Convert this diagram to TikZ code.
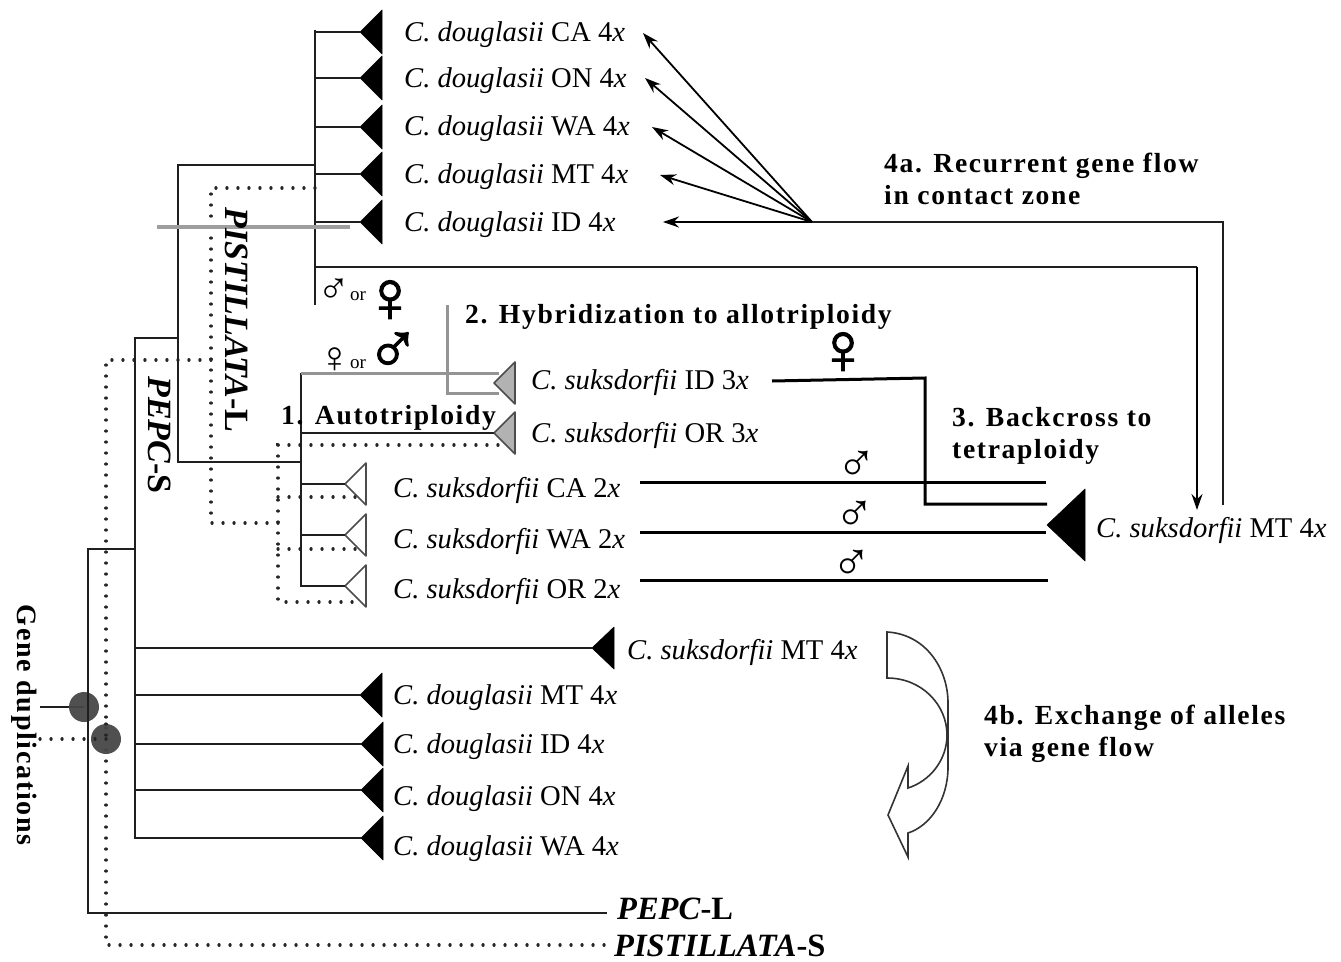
\documentclass[tikz,border=0pt]{standalone}
\usepackage{fontspec}
\setmainfont{Liberation Serif}
\newfontfamily\symfont{Liberation Serif}
\newfontfamily\symbold[FakeBold=1.6]{Liberation Serif}
\newfontfamily\boldsp[LetterSpace=6,BoldFont={Liberation Serif Bold}]{Liberation Serif}
\usetikzlibrary{arrows.meta}
\tikzset{
  x=1pt,y=-1pt,
  branch/.style={draw=black!88,line width=2.1pt},
  thickbranch/.style={draw=black,line width=3pt},
  dotbranch/.style={draw=black!85,line width=3.2pt,line cap=round,dash pattern=on 0.1pt off 10.9pt},
  grayline/.style={draw=black!42,line width=3pt},
  flow/.style={draw=black,line width=1.8pt,-{Stealth[length=16pt,width=11pt]}},
  taxon/.style={anchor=west,inner sep=0pt,yshift=-2.5pt,font=\fontsize{28.6}{30}\selectfont},
  note/.style={anchor=west,inner sep=0pt,align=left,font=\fontsize{27.6}{32}\boldsp\bfseries},
  sidelab/.style={anchor=center,inner sep=0pt,rotate=-90,font=\fontsize{28}{30}\boldsp\bfseries},
  tiplab/.style={anchor=west,inner sep=0pt,font=\fontsize{32.5}{34}\bfseries},
  sym/.style={inner sep=0pt},
  bigsym/.style={sym,font=\symbold\fontsize{73}{73}\selectfont},
  smallsym/.style={sym,font=\symfont\fontsize{44}{44}\selectfont},
  midsym/.style={sym,font=\symfont\fontsize{54}{54}\selectfont},
  ortext/.style={inner sep=0pt,font=\fontsize{19}{19}\selectfont},
  blacktri/.style={fill=black,draw=black,line width=.6pt,line join=round},
  graytri/.style={fill=black!30,draw=black!70,line width=1.6pt,line join=round},
  whitetri/.style={fill=white,draw=black!70,line width=1.6pt,line join=round},
  dup/.style={circle,fill=black!72,minimum size=30pt,inner sep=0pt,opacity=.95},
}
% \tri{name}{style}{apex x}{right x}{y}{half height}
\newcommand{\tri}[6]{%
  \coordinate (#1) at (#3,#5);
  \path[#2] (#3,#5) -- (#4,#5-#6) -- (#4,#5+#6) -- cycle;
}
\begin{document}
\begin{tikzpicture}
\useasboundingbox (0,0) rectangle (1341,961);

% ---- coordinates of tree junctions
\coordinate (a1) at (315,30);
\coordinate (a2) at (315,305);
\coordinate (a3) at (315,267);
\coordinate (b0) at (315,165);
\coordinate (b1) at (178,165);
\coordinate (b2) at (178,462);
\coordinate (b3) at (178,338);
\coordinate (c0) at (135,338);
\coordinate (c2) at (135,549);
\coordinate (d0) at (88,549);
\coordinate (d1) at (88,913);
\coordinate (e0) at (301,373);
\coordinate (e1) at (301,586);
\coordinate (e2) at (301,462);
\coordinate (pepcl) at (607,913);

% ---- dotted tree
\coordinate (p1) at (315,188);
\coordinate (p2) at (211,188);
\coordinate (p3) at (211,523);
\coordinate (p4) at (278,523);
\coordinate (p5) at (211,360);
\coordinate (p6) at (106,360);
\coordinate (p7) at (106,945);
\coordinate (p8) at (605,945);
\coordinate (q1) at (278,445);
\coordinate (q2) at (278,602);
\coordinate (q3) at (498,445);
\coordinate (q4) at (278,497);
\coordinate (q5) at (360,497);
\coordinate (q6) at (278,549);
\coordinate (q7) at (360,549);
\coordinate (q8) at (360,602);
\coordinate (s1) at (40,739);
\coordinate (s2) at (40,707);

\draw[dotbranch] (p1) -- (p2) -- (p3) -- (p4);
\draw[dotbranch] (p5) -- (p6) -- (p7) -- (p8);
\draw[dotbranch] (q3) -- (q1) -- (q2) -- (q8);
\draw[dotbranch] (q4) -- (q5);
\draw[dotbranch] (q6) -- (q7);

% ---- triangles
\tri{t1}{blacktri}{360}{382}{32}{22}
\tri{t2}{blacktri}{360}{382}{78}{22}
\tri{t3}{blacktri}{360}{382}{127}{22}
\tri{t4}{blacktri}{360}{382}{174}{22}
\tri{t5}{blacktri}{360}{382}{222}{22}
\tri{t6}{graytri}{494}{515}{383}{21}
\tri{t7}{graytri}{494}{515}{433}{21}
\tri{t8}{whitetri}{345}{366}{484}{21}
\tri{t9}{whitetri}{345}{366}{535}{21}
\tri{t10}{whitetri}{345}{366}{586}{21}
\tri{t11}{blacktri}{1047}{1085}{525}{36}
\tri{t12}{blacktri}{592}{614}{648}{21}
\tri{t13}{blacktri}{360}{382}{695}{22}
\tri{t14}{blacktri}{361}{383}{744}{22}
\tri{t15}{blacktri}{361}{383}{790}{22}
\tri{t16}{blacktri}{361}{383}{838}{22}

% ---- solid tree
\draw[branch] (a1) -- (a2);
\foreach \t in {t1,t2,t3,t4,t5} \draw[branch] (a1 |- \t) -- (\t);
\draw[branch] (b0) -- (b1) -- (b2) -- (e2);
\draw[branch] (b3) -- (c0) -- (c0 |- t16) -- (t16);
\draw[branch] (c2) -- (d0) -- (d1) -- (pepcl);
\foreach \t in {t12,t13,t14,t15} \draw[branch] (c0 |- \t) -- (\t);
\draw[branch] (e0) -- (e1) -- (t10);
\foreach \t in {t8,t9} \draw[branch] (e0 |- \t) -- (\t);
\draw[branch] (e0 |- t7) -- (t7);
\draw[branch] (s2) -- (84,707);

% ---- gray lines
\coordinate (g1) at (157,227);
\coordinate (g2) at (350,227);
\coordinate (g3) at (447,305);
\coordinate (g4) at (447,393);
\coordinate (g5) at (499,393);
\coordinate (g6) at (499,373);
\draw[grayline,line width=3.6pt,draw=black!38] (g1) -- (g2);
\draw[grayline,line cap=butt] (e0) -- (g6);
\draw[grayline] (g3) -- (g4) -- (g5);

% ---- gene-duplication markers
\node[dup] (dup1) at (84,707) {};
\node[dup] (dup2) at (106,739) {};
\draw[dotbranch] (s1) -- (dup2.center);
\draw[dotbranch] (106,724) -- (dup2.center);
\draw[branch] (88,692) -- (88,722);

% ---- gene flow
\coordinate (f1) at (1197,267);
\coordinate (f2) at (1197,510);
\coordinate (f3) at (1223,505);
\coordinate (f4) at (1223,222);
\coordinate (f5) at (812,222);
\coordinate (f6) at (663,222);
\draw[branch] (a3) -- (f1);
\draw[flow] (f1) -- (f2);
\draw[branch] (f3) -- (f4) -- (f5);
\draw[flow] (f5) -- (f6);
\draw[flow] (f5) -- (643,33);
\draw[flow] (f5) -- (645,78);
\draw[flow] (f5) -- (652,127);
\draw[flow] (f5) -- (660,175);

% ---- backcross
\coordinate (k1) at (772,381);
\coordinate (k2) at (925,378);
\coordinate (k3) at (925,504);
\coordinate (k4) at (1047,504);
\coordinate (l1) at (640,482);
\coordinate (l2) at (1046,482);
\coordinate (l3) at (640,532);
\coordinate (l4) at (1046,532);
\coordinate (l5) at (640,580);
\coordinate (l6) at (1048,580);
\draw[thickbranch] (k1) -- (k2) -- (k3) -- (k4);
\draw[thickbranch] (l1) -- (l2);
\draw[thickbranch] (l3) -- (l4);
\draw[thickbranch] (l5) -- (l6);

% ---- hollow arrow
\draw[draw=black!80,line width=1.6pt,line join=miter]
  (887,632) .. controls (925,634) and (948,668) .. (948,703)
  -- (948,767) .. controls (948,800) and (930,826) .. (908,833)
  -- (908,857) -- (888,815) -- (908,766) -- (908,788)
  .. controls (930,781) and (947,760) .. (947,735)
  .. controls (947,705) and (922,678) .. (887,678) -- cycle;

% ---- taxon labels
\node[taxon] (n1) at (404,32) {\textit{C. douglasii} CA 4\textit{x}};
\node[taxon] (n2) at (404,78) {\textit{C. douglasii} ON 4\textit{x}};
\node[taxon] (n3) at (404,126) {\textit{C. douglasii} WA 4\textit{x}};
\node[taxon] (n4) at (404,174) {\textit{C. douglasii} MT 4\textit{x}};
\node[taxon] (n5) at (404,222) {\textit{C. douglasii} ID 4\textit{x}};
\node[taxon] (n6) at (531,380) {\textit{C. suksdorfii} ID 3\textit{x}};
\node[taxon] (n7) at (531,433) {\textit{C. suksdorfii} OR 3\textit{x}};
\node[taxon] (n8) at (393,488) {\textit{C. suksdorfii} CA 2\textit{x}};
\node[taxon] (n9) at (393,539) {\textit{C. suksdorfii} WA 2\textit{x}};
\node[taxon] (n10) at (393,589) {\textit{C. suksdorfii} OR 2\textit{x}};
\node[taxon] (n11) at (1096,528) {\textit{C. suksdorfii} MT 4\textit{x}};
\node[taxon] (n12) at (627,650) {\textit{C. suksdorfii} MT 4\textit{x}};
\node[taxon] (n13) at (393,695) {\textit{C. douglasii} MT 4\textit{x}};
\node[taxon] (n14) at (393,744) {\textit{C. douglasii} ID 4\textit{x}};
\node[taxon] (n15) at (393,796) {\textit{C. douglasii} ON 4\textit{x}};
\node[taxon] (n16) at (393,846) {\textit{C. douglasii} WA 4\textit{x}};
\node[tiplab] (n17) at (617,909) {\textit{PEPC}-L};
\node[tiplab] (n18) at (614,946) {\textit{PISTILLATA}-S};

% ---- step labels
\node[note] (m1) at (884,179) {4a. Recurrent gene flow\\in contact zone};
\node[note] (m2) at (465,317) {2. Hybridization to allotriploidy};
\node[note] (m3) at (281,418) {1. Autotriploidy};
\node[note] (m4) at (952,436) {3. Backcross to\\tetraploidy};
\node[note] (m5) at (984,734) {4b. Exchange of alleles\\via gene flow};

% ---- rotated labels
\node[sidelab,font=\fontsize{34}{36}\bfseries] (r1) at (237,320) {\textit{PISTILLATA}-L};
\node[sidelab,font=\fontsize{34}{36}\bfseries] (r2) at (160,435) {\textit{PEPC}-S};
\node[sidelab] (r3) at (24,725) {Gene duplications};

% ---- sex symbols
\node[smallsym] (x1) at (334,291) {♂};
\node[ortext] (x2) at (358,296) {or};
\node[bigsym] (x3) at (390,301) {♀};
\node[smallsym] (x4) at (335,360) {♀};
\node[ortext] (x5) at (358,364) {or};
\node[bigsym] (x6) at (393,353) {♂};
\node[bigsym] (x7) at (843,353) {♀};
\node[midsym] (x8) at (857,466) {♂};
\node[midsym] (x9) at (855,516) {♂};
\node[midsym] (x10) at (852,565) {♂};
\end{tikzpicture}
\end{document}
